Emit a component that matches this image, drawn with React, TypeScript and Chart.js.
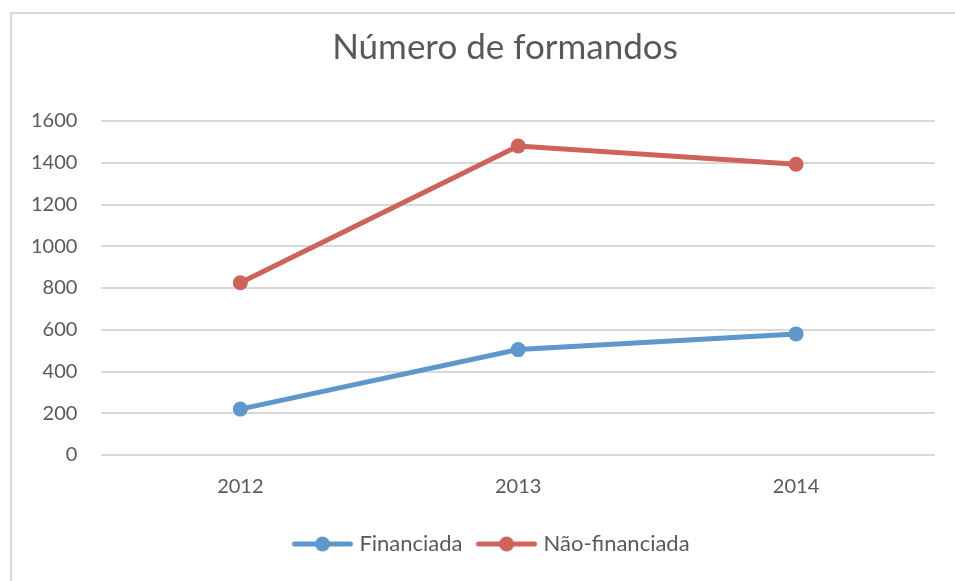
import React, { useEffect, useRef } from "react";
import { Chart, registerables } from "chart.js";

Chart.register(...registerables);

const categories = ["2012", "2013", "2014"];
const financiada = [220, 505, 580];
const naoFinanciada = [825, 1480, 1393];
const seriesNames = ["Financiada", "Não-financiada"];
const chartTitle = "Número de formandos";
const yMin = 0;
const yMax = 1600;
const yStep = 200;

const BLUE = "#5F97CD";
const RED = "#CD635B";
const TEXT = "#595959";
const GRID = "#D9D9D9";
const FONT = "Lato, 'Open Sans', sans-serif";

function legendIcon(color: string): HTMLCanvasElement {
  const c = document.createElement("canvas");
  c.width = 64;
  c.height = 16;
  const ctx = c.getContext("2d")!;
  ctx.strokeStyle = color;
  ctx.lineWidth = 5;
  ctx.lineCap = "round";
  ctx.beginPath();
  ctx.moveTo(4, 8);
  ctx.lineTo(60, 8);
  ctx.stroke();
  ctx.fillStyle = color;
  ctx.beginPath();
  ctx.arc(32, 8, 7.5, 0, Math.PI * 2);
  ctx.fill();
  return c;
}

const framePlugin = {
  id: "frameBorder",
  afterLayout(chart: any) {
    if (chart.titleBlock) {
      chart.titleBlock.left += 34;
      chart.titleBlock.right += 34;
    }
    if (chart.legend) {
      chart.legend.left += 22;
      chart.legend.right += 22;
      chart.legend.top -= 4;
      chart.legend.bottom -= 4;
    }
  },
  beforeDraw(chart: any) {
    const ctx = chart.ctx;
    ctx.save();
    ctx.strokeStyle = GRID;
    ctx.lineWidth = 2;
    ctx.beginPath();
    ctx.moveTo(11, chart.height);
    ctx.lineTo(11, 13);
    ctx.lineTo(chart.width, 13);
    ctx.stroke();
    ctx.restore();
  },
};

export default function App() {
  const ref = useRef<HTMLCanvasElement | null>(null);

  useEffect(() => {
    if (!ref.current) return;
    const icons = [legendIcon(BLUE), legendIcon(RED)];
    const chart = new Chart(ref.current, {
      type: "line",
      data: {
        labels: categories,
        datasets: [
          {
            label: seriesNames[0],
            data: financiada,
            borderColor: BLUE,
            backgroundColor: BLUE,
            borderWidth: 5,
            pointRadius: 7.5,
            pointHoverRadius: 7.5,
            pointBackgroundColor: BLUE,
            pointBorderWidth: 0,
            tension: 0,
          },
          {
            label: seriesNames[1],
            data: naoFinanciada,
            borderColor: RED,
            backgroundColor: RED,
            borderWidth: 5,
            pointRadius: 7.5,
            pointHoverRadius: 7.5,
            pointBackgroundColor: RED,
            pointBorderWidth: 0,
            tension: 0,
          },
        ],
      },
      options: {
        animation: false,
        responsive: false,
        maintainAspectRatio: false,
        layout: { padding: { left: 7, right: 20, top: 0, bottom: 12 } },
        plugins: {
          title: {
            display: true,
            text: chartTitle,
            color: TEXT,
            font: { family: FONT, size: 35, weight: "normal" },
            padding: { top: 27, bottom: 52 },
          },
          legend: {
            display: true,
            position: "bottom",
            labels: {
              color: TEXT,
              font: { family: FONT, size: 22 },
              usePointStyle: true,
              pointStyleWidth: 52,
              padding: 18,
              generateLabels: (c: any) => {
                const items = (Chart.defaults.plugins.legend.labels as any).generateLabels(c);
                items.forEach((it: any, i: number) => {
                  it.pointStyle = icons[i];
                });
                return items;
              },
            },
          },
          tooltip: { enabled: false },
        },
        scales: {
          x: {
            offset: true,
            grid: { display: false, drawTicks: false },
            border: { display: false },
            ticks: { color: TEXT, font: { family: FONT, size: 20 }, padding: 20 },
          },
          y: {
            min: yMin,
            max: yMax,
            grid: { color: GRID, lineWidth: 2, drawTicks: false },
            border: { display: false },
            ticks: {
              stepSize: yStep,
              color: TEXT,
              font: { family: FONT, size: 20 },
              padding: 24,
              callback: (v: any) => String(v),
            },
          },
        },
      },
      plugins: [framePlugin],
    });
    return () => chart.destroy();
  }, []);

  return (
    <div style={{ position: "fixed", left: 0, top: 0, width: 955, height: 581, background: "#fff", overflow: "hidden" }}>
      <canvas ref={ref} width={955} height={581} style={{ display: "block" }} />
    </div>
  );
}
